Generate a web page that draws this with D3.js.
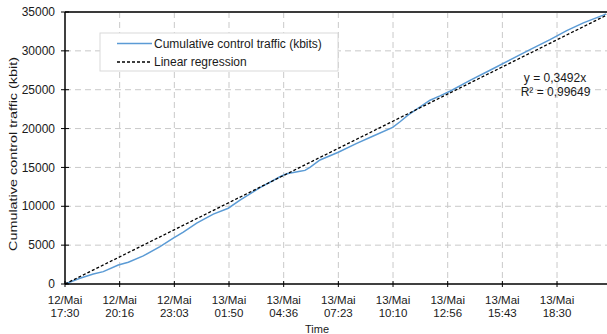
<!DOCTYPE html>
<html>
<head>
<meta charset="utf-8">
<script src="https://cdn.jsdelivr.net/npm/d3@7"></script>
<style>
  body { margin: 0; background: #fff; }
  svg text { font-family: "Liberation Sans", Arial, sans-serif; fill: #1a1a1a; }
</style>
</head>
<body>
<div id="chart"></div>
<script>
// elapsed time in seconds since 12/Mai 17:30, cumulative control traffic in kbit
var elapsed = [0, 2744, 5180, 7006, 9750, 11580, 14320, 17380, 19810, 21640, 24090, 27130,
  29870, 32010, 35670, 39330, 40550, 42990, 43900, 44810, 46640, 49990, 53360, 56390,
  59940, 61280, 62790, 64020, 66770, 68590, 70420, 74080, 77740, 81400, 85060, 88720,
  91770, 94810, 98460, 98950];
var traffic = [0, 740, 1290, 1590, 2450, 2800, 3610, 4820, 5900, 6680, 7840, 9000,
  9750, 10800, 12400, 13800, 14200, 14500, 14620, 15000, 15960, 16950, 18100, 19050,
  20160, 20880, 21750, 22350, 23650, 24200, 24800, 26200, 27500, 28850, 30150, 31450,
  32600, 33600, 34600, 34750];

var slope = 0.3492;
var r2Label = "R² = 0,99649";
var eqLabel = "y = 0,3492x";

var xTicks = [0, 10000, 20000, 30000, 40000, 50000, 60000, 70000, 80000, 90000];
var tickDays = ["12/Mai", "12/Mai", "12/Mai", "13/Mai", "13/Mai", "13/Mai", "13/Mai", "13/Mai", "13/Mai", "13/Mai"];
var tickTimes = ["17:30", "20:16", "23:03", "01:50", "04:36", "07:23", "10:10", "12:56", "15:43", "18:30"];
var yTicks = [0, 5000, 10000, 15000, 20000, 25000, 30000, 35000];

var legendNames = ["Cumulative control traffic (kbits)", "Linear regression"];

var W = 607, H = 334;
var m = {left: 65, top: 12, bottom: 50};

var svg = d3.select("#chart").append("svg")
  .attr("width", W).attr("height", H);

var x = d3.scaleLinear().domain([0, 100000]).range([m.left, 611.7]);
var y = d3.scaleLinear().domain([0, 35000]).range([H - m.bottom, m.top]);

//grid
svg.append("g").selectAll("line.hgrid").data(yTicks.slice(1, -1)).enter().append("line")
  .attr("x1", m.left).attr("x2", W)
  .attr("y1", function(d){return y(d)}).attr("y2", function(d){return y(d)})
  .attr("stroke", "#c9c9c9").attr("stroke-width", 1).attr("stroke-dasharray", "6,4");
svg.append("g").selectAll("line.vgrid").data(xTicks.slice(1)).enter().append("line")
  .attr("x1", function(d){return x(d)}).attr("x2", function(d){return x(d)})
  .attr("y1", y(35000)).attr("y2", y(0))
  .attr("stroke", "#c9c9c9").attr("stroke-width", 1).attr("stroke-dasharray", "6,4");

//top border of the plot area
svg.append("line").attr("x1", m.left).attr("x2", W).attr("y1", y(35000)).attr("y2", y(35000))
  .attr("stroke", "#3a3a3a").attr("stroke-width", 2);

//series
var pts = elapsed.map(function(t, i){return [t, traffic[i]]});
var line = d3.line().x(function(d){return x(d[0])}).y(function(d){return y(d[1])});
svg.append("path").datum(pts).attr("d", line)
  .attr("fill", "none").attr("stroke", "#5b9bd5").attr("stroke-width", 1.5);

//regression
var tEnd = d3.max(elapsed) + 1000;
svg.append("path").datum([[0, 0], [tEnd, slope * tEnd]]).attr("d", line)
  .attr("fill", "none").attr("stroke", "#000").attr("stroke-width", 1.3)
  .attr("stroke-dasharray", "3,2");

//axes
var yAxis = svg.append("g");
yAxis.append("line").attr("x1", m.left).attr("x2", m.left).attr("y1", y(35000)).attr("y2", y(0))
  .attr("stroke", "#000").attr("stroke-width", 1.5);
yAxis.selectAll("line.tick").data(yTicks).enter().append("line")
  .attr("x1", m.left - 4).attr("x2", m.left + 4)
  .attr("y1", function(d){return y(d)}).attr("y2", function(d){return y(d)})
  .attr("stroke", "#000").attr("stroke-width", 1);
yAxis.selectAll("text").data(yTicks).enter().append("text")
  .attr("x", 55).attr("y", function(d){return y(d)}).attr("dy", "0.35em")
  .attr("text-anchor", "end").style("font-size", "12px")
  .text(function(d){return d});

var xAxis = svg.append("g");
xAxis.append("line").attr("x1", m.left).attr("x2", W).attr("y1", y(0)).attr("y2", y(0))
  .attr("stroke", "#000").attr("stroke-width", 1.5);
xAxis.selectAll("line.tick").data(xTicks).enter().append("line")
  .attr("x1", function(d){return x(d)}).attr("x2", function(d){return x(d)})
  .attr("y1", y(0) - 3).attr("y2", y(0) + 3)
  .attr("stroke", "#000").attr("stroke-width", 1);
var xl = xAxis.selectAll("text").data(xTicks).enter().append("text")
  .attr("text-anchor", "middle").style("font-size", "11.5px");
xl.append("tspan").attr("x", function(d){return x(d)}).attr("y", 304)
  .text(function(d, i){return tickDays[i]});
xl.append("tspan").attr("x", function(d){return x(d)}).attr("y", 316.5)
  .text(function(d, i){return tickTimes[i]});

//axis titles
svg.append("text").attr("x", 317).attr("y", 333).attr("text-anchor", "middle")
  .style("font-size", "11px").text("Time");
svg.append("text").attr("transform", "translate(17,154) rotate(-90)")
  .attr("text-anchor", "middle").style("font-size", "11.5px")
  .attr("textLength", 194).attr("lengthAdjust", "spacingAndGlyphs")
  .text("Cumulative control traffic (kbit)");

//equation
svg.append("text").attr("x", 555).attr("y", 82).attr("text-anchor", "middle")
  .style("font-size", "12px").text(eqLabel);
svg.append("text").attr("x", 555.5).attr("y", 96).attr("text-anchor", "middle")
  .style("font-size", "12px").text(r2Label);

//legend
var lg = svg.append("g");
lg.append("rect").attr("x", 100).attr("y", 33).attr("width", 238).attr("height", 38)
  .attr("fill", "#fff").attr("stroke", "#d9d9d9").attr("stroke-width", 1);
var items = lg.selectAll("g.item").data(legendNames).enter().append("g")
  .attr("transform", function(d, i){return "translate(117," + (43.5 + i * 18.5) + ")"});
items.append("line").attr("x1", 0).attr("x2", 35)
  .attr("stroke", function(d, i){return i === 0 ? "#5b9bd5" : "#000"})
  .attr("stroke-width", function(d, i){return i === 0 ? 1.5 : 1.3})
  .attr("stroke-dasharray", function(d, i){return i === 0 ? null : "3,2"});
items.append("text").attr("x", 37).attr("dy", "0.35em").style("font-size", "12px")
  .text(function(d){return d});
</script>
</body>
</html>
